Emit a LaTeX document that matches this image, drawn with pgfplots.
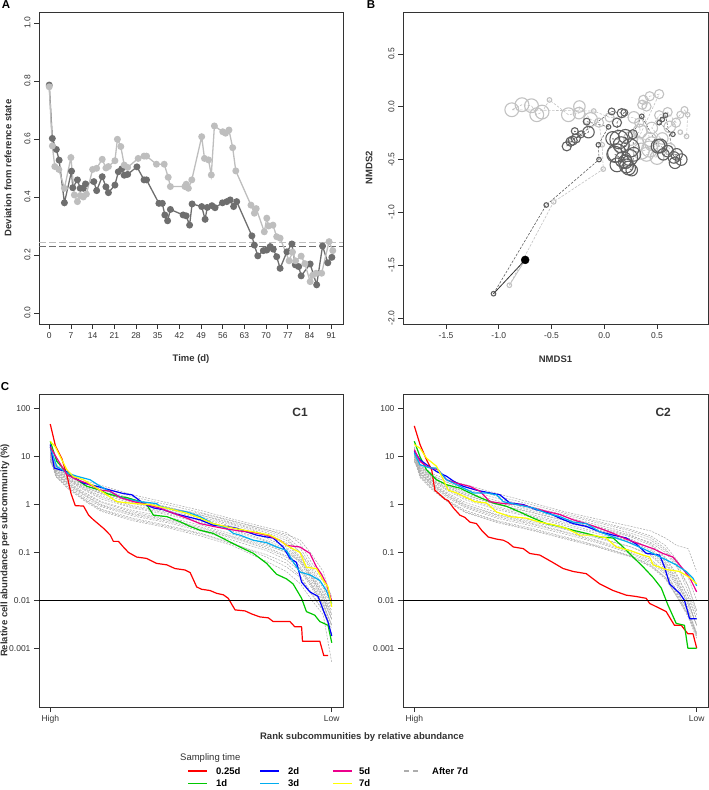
\documentclass[border=0pt]{standalone}
\usepackage{pgfplots}
\pgfplotsset{compat=1.18}
\usepackage{pgfplotstable}
\usepackage{fontspec}
\setmainfont{Liberation Sans}
\setsansfont{Liberation Sans}

\definecolor{adark}{HTML}{6E6E6E}
\definecolor{alight}{HTML}{BEBEBE}
\definecolor{bdark}{HTML}{606060}
\definecolor{blight}{HTML}{C2C2C2}
\definecolor{gband}{HTML}{ADADAD}
\definecolor{cgreen}{HTML}{00C800}
\definecolor{cyellow}{HTML}{FFFF00}
\definecolor{frame}{HTML}{333333}

\newcommand{\tickfont}{\fontsize{8.5}{10}\selectfont}
\newcommand{\labfont}{\bfseries\fontsize{9.5}{11}\selectfont}

\pgfplotsset{
  rbase/.style={
    scale only axis, anchor=south west,
    axis line style={frame, line width=0.8pt},
    tick align=outside, xtick pos=left, ytick pos=left,
    major tick length=5pt,
    tick style={frame, line width=0.7pt},
    tick label style={font=\tickfont, text=frame},
    /pgf/number format/assume math mode=true,
    label style={font=\labfont, text=frame},
  },
  ctrace/.style={line width=1.2pt, line join=round},
  gtrace/.style={gband, line width=0.55pt, dash pattern=on 2pt off 1.2pt},
}

% ---------- Panel A ----------
\pgfplotstableread{
t d
0 0.786
1 0.602
2.3 0.564
3.2 0.527
4.9 0.380
7.2 0.489
7.6 0.432
9.1 0.459
10 0.430
11 0.430
11.7 0.445
14.4 0.453
15.3 0.422
17.1 0.470
18.3 0.435
19.1 0.415
21.2 0.441
22.3 0.487
23.4 0.497
24.2 0.475
25.3 0.478
28.3 0.504
30.6 0.459
31.4 0.459
35.4 0.378
36.5 0.378
37.3 0.338
38.2 0.318
39.1 0.357
43.2 0.338
44.2 0.335
45.3 0.303
46.1 0.376
49.2 0.367
50.3 0.323
51 0.364
52.5 0.370
53.5 0.363
55.9 0.380
57.3 0.384
58.4 0.390
59.5 0.367
60.5 0.384
65.4 0.266
66.2 0.234
67.3 0.197
69.1 0.215
70.2 0.217
71.3 0.229
72.3 0.220
73.4 0.194
74.5 0.154
76.7 0.211
78.3 0.238
79.4 0.166
80.5 0.160
81.3 0.128
84.2 0.169
86.3 0.097
88.2 0.231
89.9 0.173
91.2 0.192
}\Adark
\pgfplotstableread{
t d
0 0.780
1 0.576
1.8 0.505
3.1 0.495
4.9 0.430
7 0.536
8.1 0.407
9.1 0.384
10 0.405
11 0.400
12 0.410
14 0.495
15.3 0.499
17.1 0.530
18.3 0.500
19.1 0.505
21.2 0.525
22 0.599
23.1 0.574
24.2 0.510
25.3 0.502
28.7 0.533
30.6 0.541
31.4 0.541
34.6 0.513
37.1 0.513
38.4 0.468
39.1 0.436
43.8 0.436
44.2 0.444
44.9 0.430
46 0.459
49.2 0.608
50.1 0.533
51.4 0.528
52.3 0.476
53.3 0.645
56 0.625
56.9 0.620
58 0.631
59.2 0.570
60.2 0.490
65.1 0.372
66.2 0.344
66.8 0.360
69.4 0.280
70.2 0.327
70.8 0.300
72.2 0.303
73.4 0.263
74.5 0.258
77.4 0.180
78.5 0.210
79.5 0.180
81.3 0.196
82.5 0.170
84.2 0.108
85 0.130
86.1 0.137
87.9 0.137
90.3 0.246
91.5 0.215
}\Alight

% ---------- Panel B ----------
\pgfplotstableread{
x y s
-1.05 -1.77 2
-0.55 -0.93 2
-0.05 -0.50 2
-0.056 -0.36 2
0.04 -0.19 2
-0.167 -0.14 3
-0.15 -0.24 5
-0.27 -0.30 4
-0.22 -0.26 3
-0.28 -0.23 3
-0.356 -0.374 4
-0.30 -0.32 4
-0.32 -0.33 4
0.07 -0.044 3
0.165 -0.06 4
0.19 -0.055 3
0.12 -0.15 4
0.14 -0.31 8
0.08 -0.30 6
0.118 -0.437 8
0.16 -0.36 7
0.244 -0.39 8
0.20 -0.28 6
0.18 -0.50 7
0.10 -0.45 7
0.20 -0.52 6
0.24 -0.48 7
0.12 -0.55 6
0.21 -0.56 6
0.23 -0.58 6
0.26 -0.60 5
0.28 -0.45 6
0.27 -0.26 4
0.355 -0.09 2
0.51 -0.374 6
0.53 -0.37 6
0.60 -0.42 5
0.56 -0.45 5
0.686 -0.45 5
0.66 -0.48 5
0.73 -0.50 5
0.67 -0.53 5
0.58 -0.08 2
0.55 -0.12 2
0.52 -0.15 2
0.65 -0.26 2
}\Bdark
\pgfplotstableread{
x y s
-0.90 -1.69 2
-0.48 -0.90 2
-0.01 -0.59 2
-0.02 -0.36 2
-0.05 -0.15 4
-0.13 -0.12 6
-0.236 0.003 5
-0.24 -0.06 5
-0.34 -0.075 6
-0.52 0.065 2
-0.59 -0.05 6
-0.64 -0.075 6
-0.69 0.01 6
-0.78 0.02 6
-0.877 -0.028 6
-0.10 -0.04 2
0.05 -0.10 4
0.28 -0.10 5
0.33 -0.15 4
0.34 -0.23 6
0.25 -0.30 6
0.43 -0.31 6
0.36 0.02 4
0.37 0.066 4
0.40 0.003 4
0.43 0.10 4
0.52 0.12 4
0.30 -0.35 7
0.35 -0.42 7
0.43 -0.40 7
0.45 -0.35 6
0.50 -0.48 6
0.40 -0.45 6
0.55 -0.30 5
0.62 -0.40 5
0.45 -0.20 5
0.52 -0.08 4
0.60 -0.05 4
0.68 -0.15 4
0.62 -0.19 5
0.72 -0.075 3
0.76 -0.03 3
0.79 -0.075 2
0.78 -0.28 2
0.72 -0.24 2
}\Blight

% ---------- Panel C: background (after 7d) traces ----------
\pgfplotstableread{
r g1 g2 g3 g4 g5 g6 g7 g8 g9 g10 g11 g12 g13 g14 g15 g16 g17 g18
1 12 10 14 11 9 13 8 12 10 9 15 11 16 10 8 12 9 11
3 7 6.5 6 5.5 5 4.8 4.5 4.2 4 3.8 5.2 4.6 6.8 5.8 5.2 4.4 3.9 6.2
7 4.5 4.2 3.8 3.5 3.2 3.0 2.8 2.6 2.4 2.2 3.4 2.9 4.0 3.6 3.3 2.7 2.3 4.0
13 3.2 2.8 2.5 2.2 2.0 1.8 1.6 1.4 1.3 1.2 2.3 1.7 2.9 2.4 2.1 1.55 1.25 2.6
19 2.5 2.1 1.8 1.5 1.3 1.15 1.0 0.9 0.8 0.72 1.7 1.1 2.3 1.65 1.4 0.95 0.76 1.9
30 1.6 1.3 1.1 0.95 0.85 0.75 0.65 0.58 0.52 0.46 1.2 0.7 1.45 1.05 0.9 0.62 0.49 1.25
42 1.1 0.9 0.8 0.7 0.62 0.55 0.48 0.42 0.37 0.33 0.85 0.5 1.0 0.75 0.66 0.45 0.35 0.88
54 0.75 0.6 0.55 0.48 0.42 0.37 0.32 0.28 0.25 0.22 0.65 0.34 0.68 0.52 0.45 0.3 0.24 0.6
65 0.5 0.42 0.38 0.32 0.28 0.24 0.21 0.18 0.16 0.14 0.45 0.22 0.46 0.35 0.3 0.2 0.15 0.4
77 0.33 0.28 0.24 0.2 0.17 0.15 0.13 0.11 0.08 0.065 0.3 0.14 0.3 0.22 0.18 0.12 0.09 0.26
84 0.26 0.2 0.16 0.13 0.11 0.1 0.085 0.07 0.05 0.04 0.24 0.1 0.22 0.15 0.12 0.08 0.06 0.18
89 0.15 0.1 0.08 0.07 0.06 0.05 0.045 0.04 0.03 0.022 0.18 0.065 0.12 0.075 0.065 0.045 0.032 0.1
93 0.06 0.045 0.035 0.03 0.025 0.022 0.02 0.018 0.013 0.01 0.09 0.03 0.05 0.032 0.028 0.02 0.014 0.04
97 0.03 0.02 0.015 0.012 0.01 0.009 0.008 0.007 0.006 0.005 0.04 0.012 0.025 0.014 0.011 0.008 0.006 0.018
100 0.012 0.008 0.006 0.005 0.004 0.003 0.003 0.0025 0.002 0.0005 0.01 0.004 0.01 0.005 0.004 0.003 0.002 0.007
}\GrayOne
\pgfplotstableread{
r g1 g2 g3 g4 g5 g6 g7 g8 g9 g10 g11 g12 g13 g14 g15 g16 g17 g18
1 12 10 14 11 9 13 8 12 10 15 11 9 16 10 8 12 9 11
3 7 6.5 6 5.5 5 4.8 4.5 4.2 4 5.2 4.6 3.7 6.8 5.8 5.2 4.4 3.9 6.2
7 4.5 4.2 3.8 3.4 3.1 2.9 2.7 2.5 2.3 3.3 2.8 2.1 4.0 3.6 3.2 2.6 2.2 3.9
13 3.2 2.8 2.4 2.1 1.9 1.7 1.5 1.35 1.2 2.2 1.6 1.1 2.9 2.3 2.0 1.45 1.15 2.5
19 2.6 2.1 1.7 1.45 1.25 1.1 0.95 0.85 0.75 1.6 1.0 0.68 2.3 1.55 1.35 0.9 0.7 1.8
30 1.7 1.35 1.1 0.9 0.78 0.68 0.6 0.52 0.46 1.0 0.62 0.42 1.5 1.0 0.84 0.56 0.44 1.2
42 1.1 0.9 0.75 0.62 0.55 0.47 0.41 0.36 0.32 0.7 0.44 0.29 1.0 0.68 0.58 0.39 0.3 0.8
54 0.7 0.6 0.5 0.42 0.36 0.31 0.27 0.24 0.21 0.46 0.3 0.19 0.65 0.46 0.39 0.26 0.2 0.55
65 0.5 0.42 0.35 0.3 0.25 0.21 0.18 0.16 0.14 0.33 0.2 0.13 0.45 0.32 0.27 0.17 0.135 0.38
77 0.35 0.28 0.23 0.19 0.16 0.13 0.11 0.095 0.085 0.22 0.13 0.08 0.3 0.21 0.17 0.1 0.082 0.25
84 0.28 0.2 0.15 0.12 0.1 0.085 0.07 0.06 0.055 0.16 0.09 0.05 0.22 0.14 0.11 0.065 0.052 0.18
89 0.2 0.12 0.08 0.065 0.055 0.045 0.04 0.035 0.03 0.1 0.05 0.028 0.14 0.075 0.06 0.038 0.03 0.11
93 0.14 0.06 0.035 0.028 0.024 0.02 0.016 0.014 0.012 0.05 0.022 0.012 0.07 0.032 0.026 0.015 0.013 0.055
97 0.12 0.02 0.012 0.01 0.008 0.007 0.006 0.005 0.005 0.02 0.009 0.0045 0.03 0.012 0.009 0.006 0.005 0.015
100 0.04 0.006 0.004 0.003 0.003 0.002 0.002 0.002 0.0018 0.006 0.003 0.0016 0.01 0.004 0.003 0.002 0.0018 0.005
}\GrayTwo

\begin{document}
\begin{tikzpicture}
\path[use as bounding box] (0,0) rectangle (709pt,790pt);

% ================= A =================
\begin{axis}[rbase, at={(39pt,466pt)}, width=304pt, height=312pt,
  xmin=-3.3, xmax=94.8, ymin=-0.038, ymax=1.038,
  xtick={0,7,...,91}, ytick={0,0.2,0.4,0.6,0.8,1.0},
  yticklabels={0.0,0.2,0.4,0.6,0.8,1.0},
  yticklabel style={rotate=90, anchor=south},
  xlabel={Time (d)}, ylabel={Deviation from reference state},
  xlabel style={at={(axis description cs:0.5,-0.112)}, anchor=center},
  ylabel style={at={(axis description cs:-0.102,0.5)}, anchor=center},
]
\addplot[alight, line width=1.3pt, dash pattern=on 7pt off 3pt] coordinates {(-3.3,0.243) (94.8,0.243)};
\addplot[adark, line width=1.3pt, dash pattern=on 7pt off 3pt] coordinates {(-3.3,0.229) (94.8,0.229)};
\addplot[adark, line width=1.3pt, mark=*, mark size=2.8pt, mark options={solid, fill=adark, draw=adark}] table[x=t,y=d]{\Adark};
\addplot[alight, line width=1.3pt, mark=*, mark size=2.8pt, mark options={solid, fill=alight, draw=alight}] table[x=t,y=d]{\Alight};
\end{axis}

% ================= B =================
\begin{axis}[rbase, at={(403pt,466pt)}, width=305pt, height=312pt,
  xmin=-1.908, xmax=0.983, ymin=-2.057, ymax=0.898,
  xtick={-1.5,-1,-0.5,0,0.5}, xticklabels={-1.5,-1.0,-0.5,0.0,0.5},
  ytick={-2,-1.5,-1,-0.5,0,0.5}, yticklabels={-2.0,-1.5,-1.0,-0.5,0.0,0.5},
  yticklabel style={rotate=90, anchor=south},
  xlabel={NMDS1}, ylabel={NMDS2},
  xlabel style={at={(axis description cs:0.5,-0.112)}, anchor=center},
  ylabel style={at={(axis description cs:-0.111,0.5)}, anchor=center},
]
\addplot[blight, line width=0.6pt, dash pattern=on 2.5pt off 1.5pt] table[x=x,y=y]{\Blight};
\addplot[bdark, line width=0.6pt, dash pattern=on 2.5pt off 1.5pt] table[x=x,y=y]{\Bdark};
\addplot[blight, line width=0.8pt] coordinates {(-0.75,-1.45) (-0.90,-1.69)};
\addplot[black!80, line width=0.8pt] coordinates {(-0.75,-1.45) (-1.05,-1.77)};
\addplot[scatter, only marks, mark=o, line width=1.1pt,
  scatter/use mapped color={draw=blight},
  visualization depends on={\thisrow{s}\as\ms},
  scatter/@pre marker code/.append style={/tikz/mark size=1.15*\ms}]
  table[x=x,y=y]{\Blight};
\addplot[scatter, only marks, mark=o, line width=1.1pt,
  scatter/use mapped color={draw=bdark},
  visualization depends on={\thisrow{s}\as\ms},
  scatter/@pre marker code/.append style={/tikz/mark size=1.15*\ms}]
  table[x=x,y=y]{\Bdark};
\addplot[only marks, mark=*, mark size=4pt, black] coordinates {(-0.75,-1.45)};
\end{axis}

% ================= C1 =================
\begin{axis}[rbase, at={(39pt,83pt)}, width=304pt, height=313pt,
  ymode=log, xmin=-2.96, xmax=103.96, ymin=5.9e-5, ymax=204,
  xtick={1,100}, xticklabels={High,Low},
  ytick={0.001,0.01,0.1,1,10,100}, yticklabels={0.001,0.01,0.1,1,10,100},
  yminorticks=false,
  ylabel={Relative cell abundance per subcommunity (\%)},
  ylabel style={at={(axis description cs:-0.112,0.5)}, anchor=center},
]
\pgfplotsinvokeforeach{1,...,18}{\addplot[gtrace] table[x=r,y=g#1]{\GrayOne};}
\addplot[ctrace, red] coordinates {(1,48) (2.8,17) (5.1,9) (6.9,4) (8.3,1.7) (9.8,0.95) (12.7,0.93) (14.5,0.6) (16.2,0.48) (19.7,0.32) (22.1,0.23) (23.2,0.17) (25.0,0.17) (26.7,0.13) (28.5,0.10) (31.4,0.08) (34.9,0.075) (38.4,0.059) (42.0,0.055) (44.9,0.046) (48.4,0.043) (50.2,0.038) (52.5,0.019) (54.2,0.017) (57.2,0.016) (59.5,0.014) (61.9,0.013) (63.6,0.011) (66.0,0.0063) (69.5,0.006) (71.8,0.0052) (74.7,0.0045) (77.7,0.0043) (79.4,0.0036) (85.3,0.0036) (87.0,0.0028) (89.4,0.0028) (89.7,0.0014) (95.8,0.0014) (97.2,0.0007) (98.7,0.0007)};
\addplot[ctrace, cgreen] coordinates {(1,21) (3.3,8) (6.9,4.6) (10.4,3.3) (13.9,2.4) (18.6,2.0) (20.9,1.7) (24.4,1.5) (27.9,1.4) (32.6,1.15) (34.9,1.0) (37.3,0.6) (42.0,0.56) (46.6,0.44) (50.2,0.35) (53.7,0.29) (58.3,0.25) (63.0,0.18) (67.7,0.13) (72.4,0.096) (77.1,0.059) (80.6,0.035) (84.1,0.028) (86.4,0.022) (89.4,0.011) (91.1,0.0058) (94.0,0.0049) (95.8,0.0036) (98.7,0.003) (100,0.0013)};
\addplot[ctrace, blue] coordinates {(1,18) (2.4,5.8) (4.5,5.3) (6.9,4.9) (9.2,3.8) (12.7,2.8) (18.6,2.3) (22.1,2.0) (26.7,1.7) (29.7,1.6) (31.4,1.35) (33.8,1.05) (37.3,0.85) (40.8,0.78) (44.3,0.66) (49.0,0.56) (53.7,0.48) (58.3,0.37) (63.0,0.35) (66.5,0.32) (70.0,0.27) (73.6,0.23) (77.1,0.21) (79.4,0.20) (82.9,0.13) (85.3,0.075) (87.6,0.062) (89.4,0.024) (92.3,0.015) (95.2,0.012) (97.0,0.0063) (98.7,0.0035) (100,0.0018)};
\addplot[ctrace, cyan] coordinates {(1,16) (3.3,6.2) (6.9,4.6) (10.4,3.9) (15.0,3.3) (18.6,2.4) (23.2,1.7) (26.7,1.35) (32.6,1.15) (38.4,1.05) (39.6,0.92) (44.3,0.78) (49.0,0.70) (53.7,0.56) (58.3,0.40) (63.0,0.32) (65.4,0.25) (67.7,0.23) (72.4,0.18) (77.1,0.16) (80.6,0.13) (84.1,0.11) (86.4,0.064) (88.8,0.039) (92.3,0.034) (95.8,0.026) (98.1,0.016) (100,0.0085)};
\addplot[ctrace, magenta] coordinates {(1,16) (3.3,9.3) (5.1,6.2) (6.9,4.2) (10.4,3.3) (13.9,2.8) (18.6,2.0) (22.1,1.9) (25.6,1.4) (30.3,1.15) (34.9,1.0) (39.6,0.84) (44.3,0.66) (49.0,0.52) (53.7,0.40) (58.3,0.35) (63.0,0.31) (67.7,0.28) (72.4,0.26) (77.1,0.23) (81.7,0.18) (84.1,0.14) (88.8,0.13) (92.3,0.096) (94.6,0.05) (96.4,0.035) (98.1,0.022) (99.9,0.01)};
\addplot[ctrace, cyellow] coordinates {(1,21) (2.8,16) (4.5,10) (6.9,5.3) (9.2,3.8) (12.7,3.3) (17.4,2.2) (20.9,1.6) (24.4,1.15) (30.3,1.05) (36.1,1.0) (42.0,0.84) (49.0,0.66) (53.7,0.52) (58.3,0.40) (65.4,0.32) (72.4,0.27) (78.2,0.23) (81.7,0.18) (84.1,0.14) (88.8,0.10) (91.1,0.049) (94.6,0.046) (97.0,0.026) (98.7,0.019) (100,0.0073)};
\addplot[black, line width=0.8pt] coordinates {(-2.96,0.01) (103.96,0.01)};
\node[font=\bfseries\fontsize{12}{14}\selectfont, text=frame] at (axis description cs:0.859,0.942) {C1};
\end{axis}

% ================= C2 =================
\begin{axis}[rbase, at={(403pt,83pt)}, width=305pt, height=313pt,
  ymode=log, xmin=-2.96, xmax=103.96, ymin=5.9e-5, ymax=204,
  xtick={1,100}, xticklabels={High,Low},
  ytick={0.001,0.01,0.1,1,10,100}, yticklabels={0.001,0.01,0.1,1,10,100},
  yminorticks=false,
]
\pgfplotsinvokeforeach{1,...,18}{\addplot[gtrace] table[x=r,y=g#1]{\GrayTwo};}
\addplot[ctrace, red] coordinates {(1,44) (3.0,18) (5.3,8.6) (7.1,5.3) (8.2,2.0) (10.0,1.6) (11.7,1.3) (12.9,1.2) (14.7,0.85) (17.0,0.6) (18.7,0.54) (20.5,0.43) (22.8,0.40) (24.6,0.29) (26.9,0.21) (29.8,0.19) (32.2,0.18) (33.9,0.16) (35.7,0.13) (39.2,0.12) (41.5,0.095) (45.0,0.088) (49.1,0.064) (53.2,0.046) (56.7,0.04) (61.3,0.036) (66.0,0.022) (70.7,0.016) (75.3,0.0128) (78.8,0.012) (82.3,0.011) (83.5,0.0086) (87.0,0.0068) (89.3,0.0058) (92.2,0.003) (94.6,0.003) (96.9,0.002) (98.7,0.002) (100,0.001)};
\addplot[ctrace, cgreen] coordinates {(1,21) (3.0,10) (5.3,5.3) (8.8,3.3) (12.3,2.6) (17.0,2.2) (20.5,1.75) (24.0,1.4) (28.7,1.08) (33.3,0.92) (38.0,0.70) (42.7,0.52) (47.3,0.40) (52.0,0.35) (56.7,0.29) (61.3,0.25) (66.0,0.21) (70.7,0.20) (74.2,0.13) (77.7,0.08) (81.2,0.05) (84.7,0.03) (87.6,0.018) (89.9,0.008) (92.8,0.0033) (95.7,0.003) (96.9,0.001) (100,0.001)};
\addplot[ctrace, blue] coordinates {(1,13) (3.0,8.6) (5.3,6.8) (8.8,4.9) (12.3,3.9) (14.7,3.1) (18.2,2.4) (22.8,2.0) (27.5,1.75) (31.0,1.6) (34.5,1.08) (39.2,1.0) (43.8,0.78) (47.3,0.70) (52.0,0.52) (56.7,0.40) (61.3,0.35) (66.0,0.27) (70.7,0.23) (75.3,0.20) (78.8,0.15) (82.3,0.096) (87.0,0.088) (88.7,0.05) (90.5,0.022) (94.0,0.014) (95.7,0.01) (96.9,0.0056) (97.5,0.0041) (100,0.0041)};
\addplot[ctrace, magenta] coordinates {(1,14) (3.0,8) (5.3,6.3) (9.4,5.3) (12.3,3.3) (15.8,2.8) (20.5,2.4) (24.0,1.9) (27.5,1.15) (32.2,1.05) (38.0,1.0) (42.7,0.85) (47.3,0.72) (52.0,0.62) (56.7,0.48) (61.3,0.40) (66.0,0.32) (70.7,0.25) (75.3,0.19) (80.0,0.15) (84.7,0.12) (88.2,0.095) (91.7,0.08) (95.2,0.045) (97.5,0.03) (100,0.015)};
\addplot[ctrace, cyan] coordinates {(1,12) (3.0,6.8) (6.5,5.8) (8.8,5.8) (12.3,3.3) (17.0,2.4) (21.7,1.75) (26.3,1.75) (29.8,1.6) (32.2,1.15) (36.8,1.0) (42.7,0.85) (47.3,0.66) (52.0,0.56) (56.7,0.43) (61.3,0.40) (66.0,0.27) (70.7,0.21) (75.3,0.17) (81.2,0.12) (84.7,0.095) (89.3,0.07) (92.8,0.055) (96.3,0.04) (98.7,0.029) (100,0.02)};
\addplot[ctrace, cyellow] coordinates {(1,18) (3.0,15) (5.3,9.3) (8.8,6.3) (10.6,3.9) (12.9,2.0) (15.8,1.75) (19.3,1.4) (22.2,1.15) (26.3,1.08) (29.8,0.70) (34.5,0.56) (40.3,0.52) (45.0,0.43) (49.7,0.38) (54.3,0.32) (59.0,0.23) (63.7,0.23) (68.3,0.20) (71.8,0.13) (76.5,0.11) (81.2,0.088) (83.5,0.08) (84.7,0.055) (89.3,0.044) (94.0,0.04) (97.5,0.03) (100,0.022)};
\addplot[black, line width=0.8pt] coordinates {(-2.96,0.01) (103.96,0.01)};
\node[font=\bfseries\fontsize{12}{14}\selectfont, text=frame] at (axis description cs:0.853,0.942) {C2};
\end{axis}

% ================= shared texts =================
\node[font=\bfseries\fontsize{11.5}{13}\selectfont] at (6pt,785pt) {A};
\node[font=\bfseries\fontsize{11.5}{13}\selectfont] at (371pt,785pt) {B};
\node[font=\bfseries\fontsize{11.5}{13}\selectfont] at (5pt,403pt) {C};
\node[font=\labfont, text=frame] at (362pt,53pt) {Rank subcommunities by relative abundance};

% legend
\node[anchor=west, inner sep=0pt, font=\fontsize{9.5}{11}\selectfont, text=frame] at (180pt,32pt) {Sampling time};
\draw[red, line width=1.3pt] (188pt,19pt) -- (207pt,19pt);
\node[anchor=west, inner sep=0pt, font=\labfont] at (216pt,19pt) {0.25d};
\draw[cgreen, line width=1.3pt] (188pt,6.5pt) -- (207pt,6.5pt);
\node[anchor=west, inner sep=0pt, font=\labfont] at (216pt,6.5pt) {1d};
\draw[blue, line width=1.3pt] (260pt,19pt) -- (279pt,19pt);
\node[anchor=west, inner sep=0pt, font=\labfont] at (288pt,19pt) {2d};
\draw[cyan, line width=1.3pt] (260pt,6.5pt) -- (279pt,6.5pt);
\node[anchor=west, inner sep=0pt, font=\labfont] at (288pt,6.5pt) {3d};
\draw[magenta, line width=1.3pt] (333pt,19pt) -- (352pt,19pt);
\node[anchor=west, inner sep=0pt, font=\labfont] at (359pt,19pt) {5d};
\draw[cyellow, line width=1.3pt] (333pt,6.5pt) -- (352pt,6.5pt);
\node[anchor=west, inner sep=0pt, font=\labfont] at (359pt,6.5pt) {7d};
\draw[gband, line width=1.1pt, dash pattern=on 5pt off 4pt] (404pt,19pt) -- (419pt,19pt);
\node[anchor=west, inner sep=0pt, font=\labfont] at (432pt,19pt) {After 7d};
\end{tikzpicture}
\end{document}
